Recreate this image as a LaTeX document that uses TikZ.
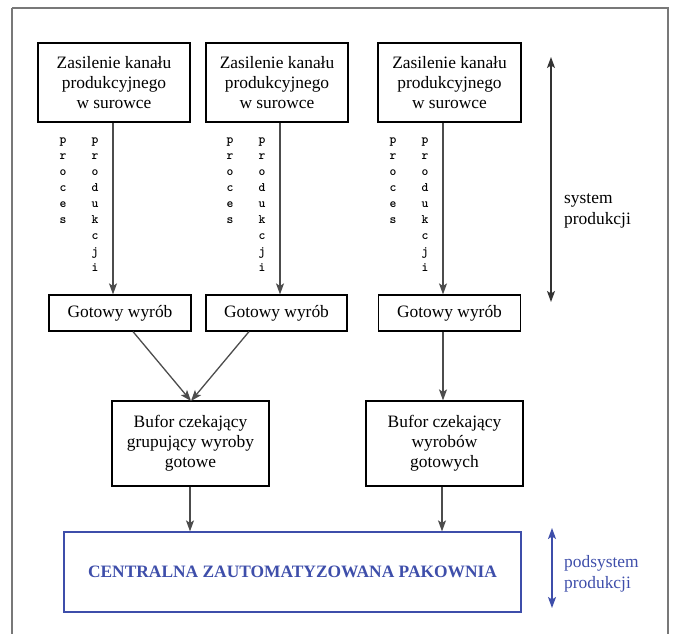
\documentclass[tikz,border=0pt]{standalone}
\usepackage{fontspec}
\setmainfont{Liberation Serif}
\usetikzlibrary{arrows.meta}
\definecolor{pblue}{RGB}{62,78,170}
\definecolor{frameg}{RGB}{120,120,120}
\begin{document}
\begin{tikzpicture}[x=1pt,y=-1pt,
  >={Stealth[length=11pt,width=8pt,inset=2.5pt]},
  box/.style={draw=black,line width=1.2pt,rectangle,inner sep=0pt,align=center,
    font=\fontsize{17.4}{20}\selectfont},
  conn/.style={draw=black!70,line width=1.3pt,->},
  vlet/.style={align=center,inner sep=0pt,anchor=north,
    font=\ttfamily\bfseries\fontsize{13}{16}\selectfont},
  side/.style={align=left,anchor=west,inner sep=0pt,font=\fontsize{17.4}{21.5}\selectfont}]
\useasboundingbox (0,0) rectangle (675,634);
\draw[frameg,line width=1.3pt] (12,8) -- (668,8) -- (668,650) (12,8) -- (12,650);
% top boxes
\node[box,minimum width=152pt,minimum height=79pt] (z1) at (114,82.5) {Zasilenie kanału\\produkcyjnego\\w surowce};
\node[box,minimum width=142pt,minimum height=79pt] (z2) at (277,82.5) {Zasilenie kanału\\produkcyjnego\\w surowce};
\node[box,minimum width=143pt,minimum height=79pt] (z3) at (449.5,82.5) {Zasilenie kanału\\produkcyjnego\\w surowce};
% gotowy boxes
\node[box,minimum width=142pt,minimum height=36pt] (g1) at (120,313) {Gotowy wyrób};
\node[box,minimum width=141pt,minimum height=36pt] (g2) at (276.5,313) {Gotowy wyrób};
\node[box,minimum width=142pt,minimum height=36pt] (g3) at (449.5,313) {Gotowy wyrób};
% buffers
\node[box,minimum width=157pt,minimum height=85pt] (b1) at (190.5,443.5) {Bufor czekający\\grupujący wyroby\\gotowe};
\node[box,minimum width=157pt,minimum height=85pt] (b2) at (444.5,443.5) {Bufor czekający\\wyrobów\\gotowych};
% central
\node[box,draw=pblue,text=pblue,minimum width=457pt,minimum height=80pt,font=\bfseries\fontsize{17.4}{20}\selectfont] (c) at (292.5,572) {CENTRALNA ZAUTOMATYZOWANA PAKOWNIA};
% vertical letters
\foreach \ax/\n in {113/1,280/2,443/3}{
  \node[vlet] (pa\n) at (\ax-50,138) {p\\r\\o\\c\\e\\s};
  \node[vlet] (pb\n) at (\ax-18,138) {p\\r\\o\\d\\u\\k\\c\\j\\i};
}
% connectors
\draw[conn] (z1.south -| 113,0) -- (g1.north -| 113,0);
\draw[conn] (z2.south -| 280,0) -- (g2.north -| 280,0);
\draw[conn] (z3.south -| 443,0) -- (g3.north -| 443,0);
\coordinate (m1) at (191,401);
\draw[conn] (g1.south -| 133,0) -- (m1);
\draw[conn] (g2.south -| 249,0) -- (m1);
\draw[conn] (g3.south -| 443,0) -- (b2.north -| 443,0);
\draw[conn] (b1.south -| 190,0) -- (c.north -| 190,0);
\draw[conn] (b2.south -| 442,0) -- (c.north -| 442,0);
% side arrows
\coordinate (s1) at (551,57);
\coordinate (s2) at (551,302);
\draw[draw=black!80,line width=1.3pt,<->] (s1) -- (s2);
\node[side] (st) at (564,211) {system\\produkcji};
\coordinate (p1) at (552,528);
\coordinate (p2) at (552,608);
\draw[draw=pblue,line width=1.3pt,<->] (p1) -- (p2);
\node[side,text=pblue] (pt) at (564,574) {podsystem\\produkcji};
\end{tikzpicture}
\end{document}
